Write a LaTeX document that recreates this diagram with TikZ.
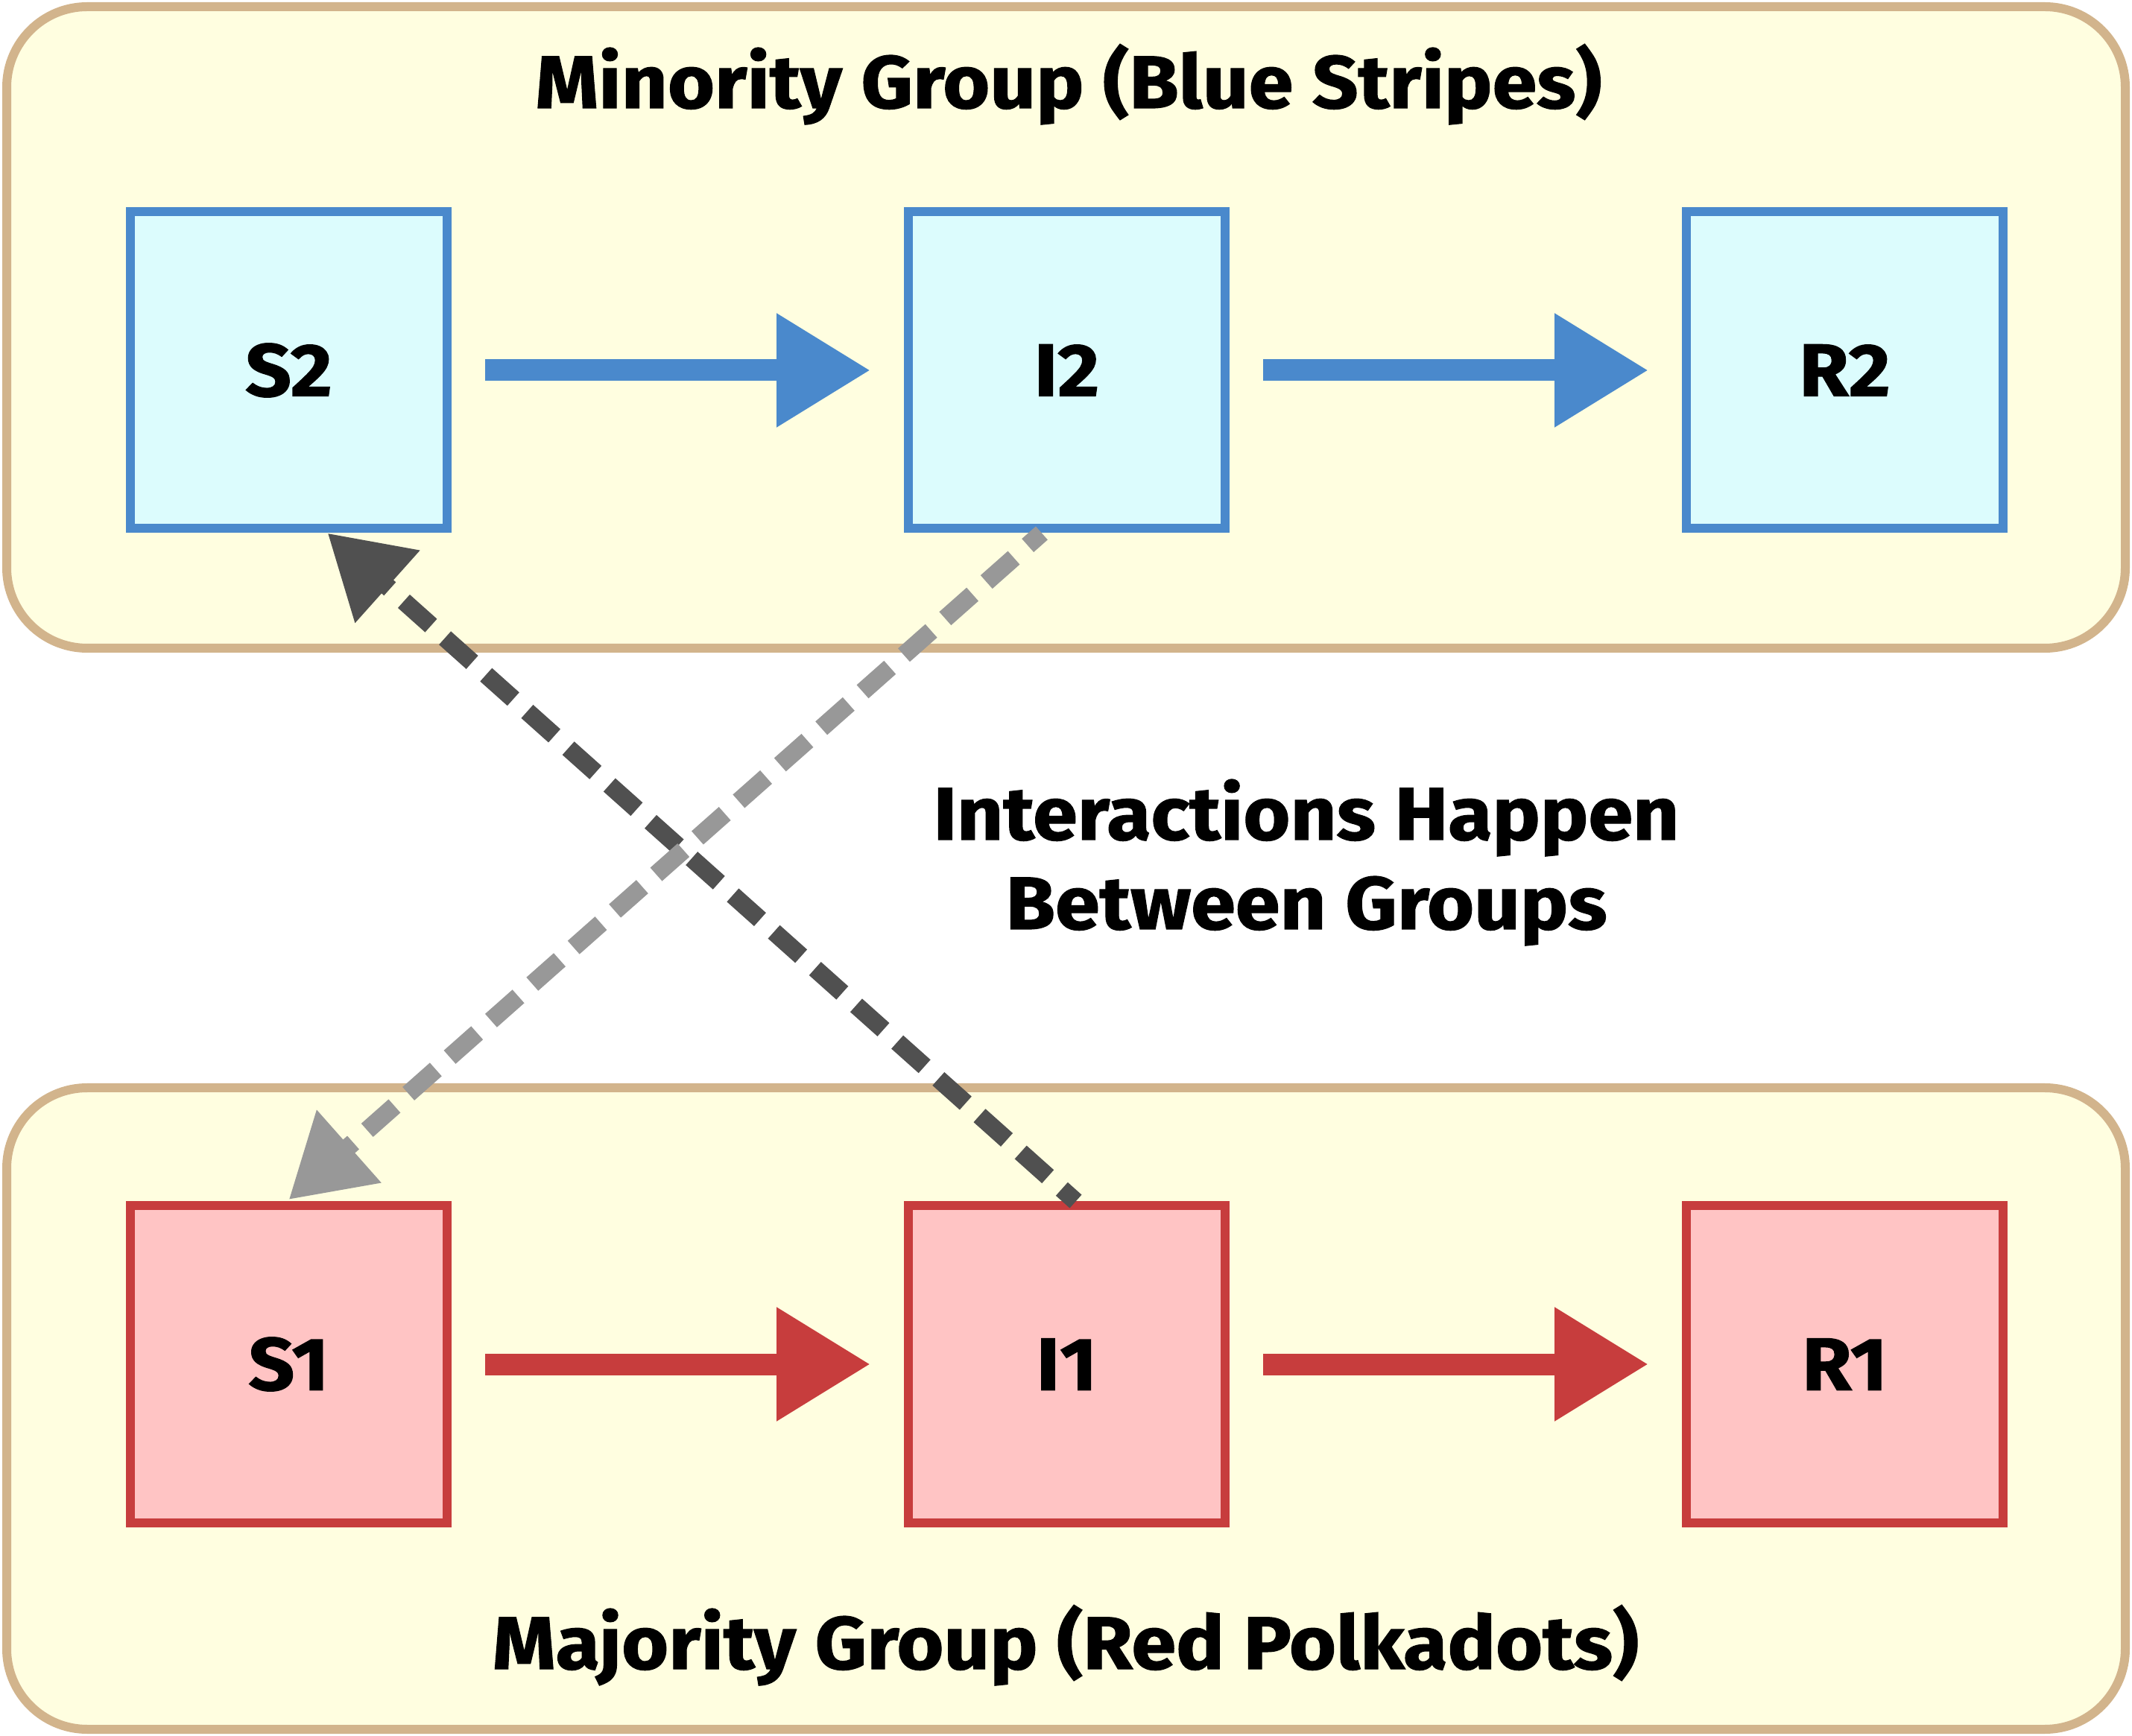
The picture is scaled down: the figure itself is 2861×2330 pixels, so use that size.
\documentclass[tikz,border=0pt]{standalone}
\usepackage{fontspec}
\setmainfont{Fira Sans}[BoldFeatures={FakeStretch=1.08, FakeBold=1.2}]
\usetikzlibrary{arrows.meta}

\definecolor{groupfill}{HTML}{FFFEE0}
\definecolor{groupline}{HTML}{D2B48C}
\definecolor{bluefill}{HTML}{DCFCFD}
\definecolor{blueline}{HTML}{4A89CC}
\definecolor{redfill}{HTML}{FFC4C4}
\definecolor{redline}{HTML}{C73D3D}
\definecolor{darklink}{HTML}{505050}
\definecolor{lightlink}{HTML}{989898}

\tikzset{
  groupbox/.style={draw=groupline, fill=groupfill, line width=3pt,
    rounded corners=27pt, minimum width=710.75pt, minimum height=215.25pt,
    inner sep=0pt},
  stateblue/.style={draw=blueline, fill=bluefill, line width=3pt,
    minimum size=106.25pt, inner sep=0pt, font=\fontsize{25}{30}\selectfont\bfseries},
  statered/.style={stateblue, draw=redline, fill=redfill},
  titletext/.style={anchor=base, inner sep=0pt, font=\fontsize{25}{30}\selectfont\bfseries},
  flow/.style={line width=7.25pt, shorten <=11.25pt, shorten >=11.25pt,
    -{Triangle[length=31.5pt,width=36.25pt]}},
  link/.style={line width=6pt, dash pattern=on 12.25pt off 6.25pt, dash phase=6pt,
    -{Triangle[length=27pt,width=31pt]}}
}

\begin{document}
\begin{tikzpicture}[x=0.25pt, y=-0.25pt]
\useasboundingbox (0,0) rectangle (2861,2330);

% group panels
\node[groupbox] (topgroup) at (1430.5,439.5) {};
\node[groupbox] (botgroup) at (1430.5,1890.5) {};

\node[titletext] (toptitle) at (1434,145) {Minority Group (Blue Stripes)};
\node[titletext] (bottitle) at (1430,2240) {Majority Group (Red Polkadots)};

% compartments
\node[stateblue] (S2) at (387.5,497) {S2};
\node[stateblue] (I2) at (1431.5,497) {I2};
\node[stateblue] (R2) at (2475.5,497) {R2};
\node[statered] (S1) at (387.5,1831) {S1};
\node[statered] (I1) at (1431.5,1831) {I1};
\node[statered] (R1) at (2475.5,1831) {R1};

% transitions within each group
\draw[flow, blueline] (S2.east) -- (I2.west);
\draw[flow, blueline] (I2.east) -- (R2.west);
\draw[flow, redline] (S1.east) -- (I1.west);
\draw[flow, redline] (I1.east) -- (R1.west);

% cross-group interactions
\draw[link, darklink] ([xshift=3pt]I1.north) -- ([xshift=13pt]S2.south);
\draw[link, lightlink] ([xshift=-8.4pt]I2.south) -- ([yshift=0.6pt]S1.north);

\node[align=center, inner sep=0pt, anchor=base,
  font=\fontsize{25}{30}\selectfont\bfseries] (midtext) at (1753,1247)
  {Interactions Happen\\Between Groups};
\end{tikzpicture}
\end{document}
